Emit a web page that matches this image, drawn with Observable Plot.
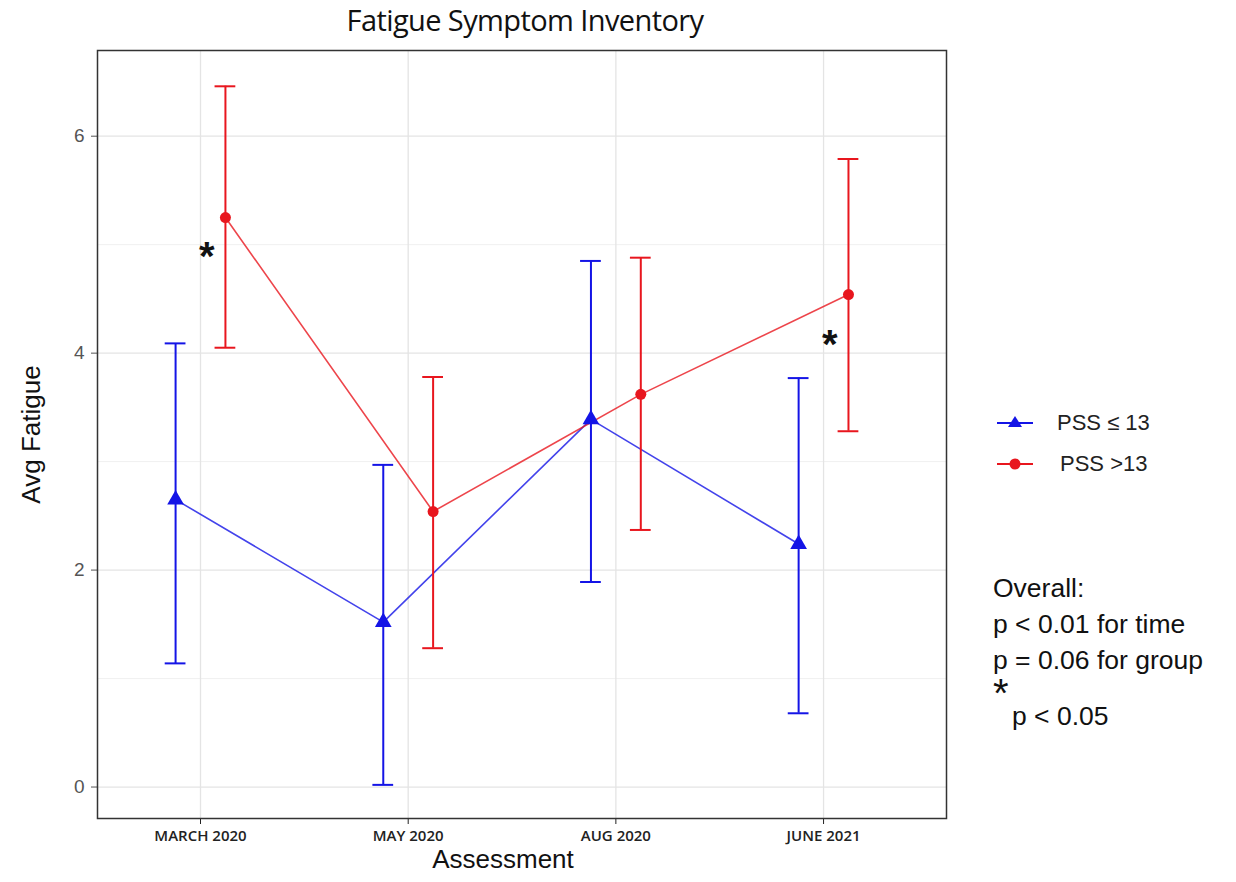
<!DOCTYPE html>
<html><head><meta charset="utf-8">
<script src="https://cdn.jsdelivr.net/npm/d3@7"></script>
<script src="https://cdn.jsdelivr.net/npm/@observablehq/plot@0.6"></script>
<style>
body{margin:0;background:#fff;}
#wrap{position:relative;width:1236px;height:882px;background:#fff;overflow:hidden;}
#chart{position:absolute;left:0;top:0;}
#title{position:absolute;left:0;width:1050px;top:0px;text-align:center;font-family:"Open Sans",sans-serif;font-size:29px;color:#111;letter-spacing:-0.6px;}
.leg{position:absolute;left:995px;font-family:Arial,"Liberation Sans",sans-serif;font-size:22px;color:#222;display:flex;align-items:center;}
.leg svg{margin-right:22px;}
#note{position:absolute;left:993px;top:570px;font-family:Arial,"Liberation Sans",sans-serif;font-size:26.5px;line-height:36px;color:#111;}
#note .last{position:relative;padding-top:20px;padding-left:19px;}
#note .star{position:absolute;left:0;top:3px;font-size:40px;line-height:24px;}
#chart g[aria-label="y-axis tick label"] text{font-size:19px;}
#chart g[aria-label="x-axis tick label"] text{font-size:15px;font-weight:600;}
</style></head>
<body><div id="wrap">
<div id="chart"></div>
<div id="title">Fatigue Symptom Inventory</div>
<div class="leg" id="leg0" style="top:410px"></div>
<div class="leg" id="leg1" style="top:451px"></div>
<div id="note">Overall:<br>p &lt; 0.01 for time<br>p = 0.06 for group<div class="last"><span class="star">*</span>p &lt; 0.05</div></div>
</div>
<script>
const timepoints = ["MARCH 2020", "MAY 2020", "AUG 2020", "JUNE 2021"];
const groups = ["PSS ≤ 13", "PSS >13"];
const groupColors = ["#1414e6", "#e8161e"];
const lowMean  = [2.65, 1.52, 3.39, 2.24];
const lowLower = [1.14, 0.02, 1.89, 0.68];
const lowUpper = [4.09, 2.97, 4.85, 3.77];
const highMean  = [5.25, 2.54, 3.62, 4.54];
const highLower = [4.05, 1.28, 2.37, 3.28];
const highUpper = [6.46, 3.78, 4.88, 5.79];
const starNotes = [{t: "MARCH 2020", y: 4.98}, {t: "JUNE 2021", y: 4.17}];
const yTicks = [0, 2, 4, 6];
const yMinor = [1, 3, 5];

const dodge = 0.12, cap = 0.05;
const rows = [];
[[lowMean, lowLower, lowUpper], [highMean, highLower, highUpper]].forEach(([m, lo, hi], g) => {
  timepoints.forEach((t, i) => rows.push({group: groups[g], g, t, i: i + 1, mean: m[i], lo: lo[i], hi: hi[i]}));
});
const px = d => d.i + (d.g === 0 ? -dodge : dodge);
const low = rows.filter(d => d.g === 0), high = rows.filter(d => d.g === 1);

const chart = Plot.plot({
  width: 960, height: 882,
  marginTop: 50, marginLeft: 97, marginRight: 14, marginBottom: 64,
  style: {background: "white", fontFamily: "Arial, 'Liberation Sans', sans-serif"},
  x: {domain: [0.504, 4.592], label: null},
  y: {domain: [-0.29, 6.79], label: null},
  color: {domain: groups, range: groupColors},
  marks: [
    Plot.gridY(yMinor, {stroke: "#f0f0f0", strokeOpacity: 1, strokeWidth: 1}),
    Plot.gridY(yTicks, {stroke: "#e4e4e4", strokeOpacity: 1, strokeWidth: 1.3}),
    Plot.gridX([1, 2, 3, 4], {stroke: "#e4e4e4", strokeOpacity: 1, strokeWidth: 1.3}),
    Plot.axisY({ticks: yTicks, tickSize: 6, tickPadding: 7, color: "#555"}),
    Plot.axisX({ticks: [1, 2, 3, 4], tickFormat: i => timepoints[i - 1], tickSize: 6, tickPadding: 6,
      color: "#222", fontFamily: "'Open Sans', sans-serif"}),
    Plot.frame({stroke: "#333", strokeWidth: 1.5}),
    Plot.line(rows, {x: px, y: "mean", z: "group", stroke: "group", strokeWidth: 1.6, strokeOpacity: 0.8}),
    Plot.ruleX(rows, {x: px, y1: "lo", y2: "hi", stroke: "group", strokeWidth: 2}),
    Plot.ruleY(rows, {x1: d => px(d) - cap, x2: d => px(d) + cap, y: "lo", stroke: "group", strokeWidth: 2}),
    Plot.ruleY(rows, {x1: d => px(d) - cap, x2: d => px(d) + cap, y: "hi", stroke: "group", strokeWidth: 2}),
    Plot.dot(low, {x: px, y: "mean", symbol: "triangle", r: 6.2, fill: "group", stroke: "none"}),
    Plot.dot(high, {x: px, y: "mean", symbol: "circle", r: 5.5, fill: "group", stroke: "none"}),
    Plot.text(starNotes, {x: d => timepoints.indexOf(d.t) + 1.03, y: "y", text: () => "*", fontSize: 40, fontWeight: "bold", fill: "#111", dy: 10}),
    Plot.text(["Avg Fatigue"], {frameAnchor: "left", textAnchor: "middle", dx: -66, rotate: -90, fontSize: 26, fill: "#111"}),
    Plot.text(["Assessment"], {frameAnchor: "bottom", textAnchor: "middle", dx: -19, dy: 49, fontSize: 26, fill: "#111"})
  ]
});
document.getElementById("chart").appendChild(chart);

function legendGlyph(g) {
  const ns = "http://www.w3.org/2000/svg";
  const s = document.createElementNS(ns, "svg");
  s.setAttribute("width", 40); s.setAttribute("height", 20);
  const l = document.createElementNS(ns, "line");
  l.setAttribute("x1", 2); l.setAttribute("x2", 38); l.setAttribute("y1", 10); l.setAttribute("y2", 10);
  l.setAttribute("stroke", groupColors[g]); l.setAttribute("stroke-width", 2);
  s.appendChild(l);
  let m;
  if (g === 0) { m = document.createElementNS(ns, "path"); m.setAttribute("d", "M20,3 L27,14 L13,14 Z"); }
  else { m = document.createElementNS(ns, "circle"); m.setAttribute("cx", 20); m.setAttribute("cy", 10); m.setAttribute("r", 5.5); }
  m.setAttribute("fill", groupColors[g]);
  s.appendChild(m);
  return s;
}
groups.forEach((name, g) => {
  const el = document.getElementById("leg" + g);
  el.appendChild(legendGlyph(g));
  const sp = document.createElement("span");
  sp.textContent = name;
  if (g === 1) sp.style.marginLeft = "3px";
  el.appendChild(sp);
});
</script>
</body></html>
